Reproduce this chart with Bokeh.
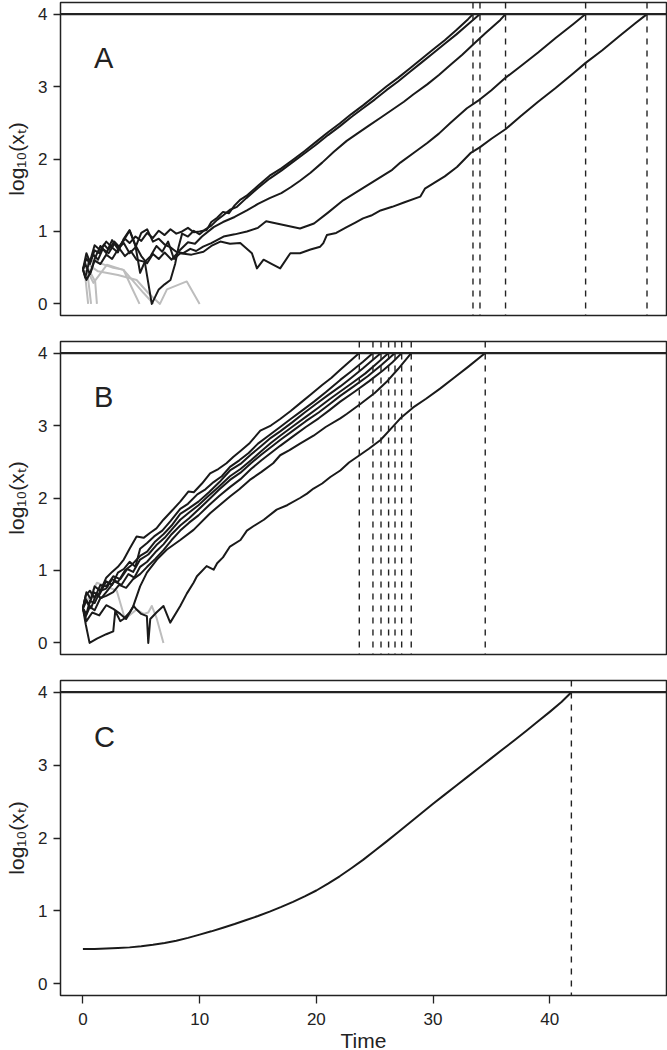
from bokeh.plotting import figure
from bokeh.models import Span, Label, FixedTicker, Range1d
from bokeh.layouts import column
from bokeh.embed import file_html
from bokeh.resources import INLINE

FONT = "Liberation Sans"
INK = "#222222"
BLACK = "#1a1a1a"
GREY = "#bdbdbd"

THRESHOLD = 4
Y_TICKS = [0, 1, 2, 3, 4]
X_TICKS = [0, 10, 20, 30, 40]
X_LABEL = "Time"
Y_LABEL = "log\u2081\u2080(x\u209c)"
PANEL_LETTERS = ["A", "B", "C"]

X_MIN, X_MAX = -1.92, 50.0
Y_MIN, Y_MAX = -0.16, 4.16

# ---------------- Panel A: trajectories (time, log10 x) ----------------
A1 = [(0, 0.477), (0.3, 0.63), (0.6, 0.55), (1.0, 0.74), (1.4, 0.70), (1.8, 0.82), (2.2, 0.75), (2.7, 0.86),
      (3.1, 0.79), (3.6, 0.90), (4.0, 0.84), (4.5, 0.93), (5.0, 0.87), (5.5, 0.98), (6.0, 0.91), (6.5, 1.01),
      (7.0, 0.95), (7.5, 1.03), (8.0, 0.97), (8.5, 1.00), (9.0, 1.05), (9.5, 0.99), (10.0, 1.00), (10.6, 1.02),
      (11.0, 1.13), (11.5, 1.19), (12.0, 1.27), (12.5, 1.25), (13.0, 1.36), (13.5, 1.44), (14.0, 1.49),
      (15.0, 1.63), (16.0, 1.77), (17.0, 1.87), (18.0, 1.99), (19.0, 2.11), (20.0, 2.24), (21.0, 2.37),
      (22.0, 2.49), (23.0, 2.62), (24.0, 2.74), (25.0, 2.87), (26.0, 3.00), (27.0, 3.12), (28.0, 3.25),
      (29.0, 3.38), (30.0, 3.51), (31.0, 3.64), (32.0, 3.78), (33.0, 3.93), (33.42, 4.0)]
A2 = [(0, 0.477), (0.2, 0.36), (0.5, 0.56), (0.9, 0.68), (1.3, 0.61), (1.7, 0.76), (2.2, 0.70), (2.7, 0.83),
      (3.1, 0.77), (3.6, 0.66), (4.1, 0.73), (4.6, 0.61), (5.3, 0.58), (5.9, 0.0), (6.5, 0.20), (7.0, 0.27),
      (7.5, 0.33), (7.9, 0.55), (8.2, 0.79), (8.5, 0.97), (9.0, 0.93), (9.5, 1.01), (10.0, 0.96), (10.5, 1.03),
      (11.0, 1.08), (11.5, 1.16), (12.0, 1.22), (12.6, 1.30), (13.2, 1.34), (14.0, 1.46), (15.0, 1.60),
      (16.0, 1.73), (17.0, 1.84), (18.0, 1.96), (19.0, 2.08), (20.0, 2.20), (21.0, 2.33), (22.0, 2.45),
      (23.0, 2.58), (24.0, 2.70), (25.0, 2.82), (26.0, 2.95), (27.0, 3.07), (28.0, 3.20), (29.0, 3.33),
      (30.0, 3.46), (31.0, 3.59), (32.0, 3.72), (33.0, 3.86), (34.02, 4.0)]
A3 = [(0, 0.477), (0.3, 0.70), (0.6, 0.58), (1.0, 0.81), (1.5, 0.74), (2.0, 0.86), (2.5, 0.78), (3.0, 0.71),
      (3.5, 0.90), (4.0, 1.02), (4.5, 0.81), (5.0, 0.66), (5.5, 0.56), (6.0, 0.69), (6.5, 0.62), (7.0, 0.71),
      (7.6, 0.61), (8.3, 0.74), (9.0, 0.85), (9.6, 0.83), (10.2, 0.93), (11.2, 1.06), (12.0, 1.13), (13.0, 1.20),
      (14.05, 1.29), (15.0, 1.38), (16.0, 1.46), (17.0, 1.53), (17.8, 1.61), (18.6, 1.70), (19.5, 1.81),
      (20.5, 1.95), (21.5, 2.10), (22.6, 2.25), (23.5, 2.35), (24.5, 2.46), (25.5, 2.57), (26.5, 2.68),
      (27.5, 2.79), (28.3, 2.89), (29.5, 3.03), (30.5, 3.16), (31.5, 3.30), (32.5, 3.44), (33.5, 3.59),
      (34.5, 3.74), (35.76, 3.92), (36.21, 4.0)]
A4 = [(0, 0.477), (0.2, 0.55), (0.6, 0.41), (1.0, 0.62), (1.5, 0.80), (2.0, 0.70), (2.5, 0.88), (3.0, 0.76),
      (3.5, 0.84), (4.0, 0.70), (4.5, 0.78), (5.0, 0.98), (5.5, 1.03), (6.0, 0.86), (6.5, 0.90), (7.0, 0.82),
      (7.5, 0.78), (8.0, 0.72), (8.6, 0.70), (9.2, 0.76), (9.7, 0.73), (10.3, 0.79), (11.0, 0.84), (12.05, 0.93),
      (13.0, 0.96), (14.05, 1.00), (15.0, 1.05), (15.7, 1.14), (16.3, 1.12), (17.5, 1.08), (18.6, 1.04),
      (19.8, 1.11), (21.0, 1.26), (22.3, 1.43), (23.5, 1.55), (24.5, 1.65), (25.5, 1.75), (26.5, 1.85),
      (27.2, 1.95), (28.3, 2.08), (29.5, 2.22), (30.5, 2.35), (31.5, 2.50), (32.9, 2.70), (34.0, 2.82),
      (35.0, 2.95), (36.2, 3.12), (37.5, 3.28), (39.0, 3.47), (40.5, 3.67), (42.0, 3.86), (43.07, 4.0)]
A5 = [(0, 0.477), (0.3, 0.33), (0.7, 0.45), (1.0, 0.60), (1.5, 0.55), (2.0, 0.68), (2.5, 0.62), (3.0, 0.75),
      (3.5, 0.88), (4.0, 1.01), (4.5, 0.80), (4.9, 0.43), (5.3, 0.58), (5.8, 0.66), (6.3, 0.80), (6.8, 0.72),
      (7.3, 0.86), (7.8, 0.62), (8.34, 0.70), (9.3, 0.68), (10.33, 0.72), (11.0, 0.80), (11.77, 0.86),
      (12.6, 0.83), (13.48, 0.84), (14.48, 0.70), (14.91, 0.49), (15.48, 0.61), (16.2, 0.55), (16.9, 0.49),
      (17.77, 0.70), (18.6, 0.70), (19.5, 0.75), (20.33, 0.79), (20.6, 0.84), (20.9, 0.95), (21.7, 0.98),
      (22.6, 1.06), (23.3, 1.12), (24.0, 1.18), (24.7, 1.22), (25.5, 1.29), (26.5, 1.34), (27.5, 1.40),
      (28.9, 1.48), (29.3, 1.59), (30.2, 1.68), (31.0, 1.76), (32.05, 1.89), (33.2, 2.08), (34.0, 2.16),
      (35.0, 2.28), (36.2, 2.41), (37.5, 2.59), (39.0, 2.79), (40.5, 2.98), (42.0, 3.18), (43.1, 3.33),
      (44.5, 3.50), (46.0, 3.70), (47.3, 3.87), (48.33, 4.0)]
A_EXTINCT = [
    [(0, 0.477), (0.2, 0.38), (0.45, 0.0)],
    [(0, 0.477), (0.3, 0.55), (0.7, 0.0)],
    [(0, 0.477), (0.35, 0.52), (1.05, 0.31), (1.2, 0.0)],
    [(0, 0.477), (0.5, 0.42), (0.9, 0.29), (2.05, 0.54), (3.05, 0.49), (3.48, 0.47), (4.2, 0.22), (4.85, 0.0)],
    [(0, 0.477), (0.6, 0.60), (1.5, 0.56), (2.6, 0.50), (3.48, 0.47), (5.2, 0.15), (6.05, 0.0)],
    [(0, 0.477), (0.4, 0.55), (1.3, 0.45), (3.0, 0.40), (4.6, 0.33), (5.6, 0.15), (6.6, 0.0), (7.2, 0.20),
     (8.9, 0.31), (10.0, 0.0)],
]

# ---------------- Panel B ----------------
B1 = [(0, 0.477), (0.3, 0.70), (0.7, 0.60), (1.0, 0.78), (1.5, 0.72), (2.0, 0.90), (2.5, 0.98), (3.0, 1.05),
      (3.5, 1.15), (4.0, 1.30), (4.6, 1.47), (5.2, 1.45), (5.77, 1.52), (6.3, 1.58), (6.9, 1.70), (7.6, 1.82),
      (8.34, 1.95), (9.05, 2.09), (9.5, 2.08), (10.2, 2.20), (10.9, 2.34), (11.6, 2.40), (12.3, 2.48),
      (12.9, 2.57), (13.5, 2.65), (14.3, 2.76), (15.2, 2.93), (16.1, 3.00), (16.9, 3.09), (17.8, 3.20),
      (18.7, 3.32), (19.6, 3.44), (20.5, 3.56), (21.3, 3.66), (22.05, 3.77), (22.9, 3.89), (23.68, 4.0)]
B2 = [(0, 0.477), (0.2, 0.62), (0.5, 0.52), (0.9, 0.70), (1.4, 0.66), (2.0, 0.85), (2.5, 0.80), (3.0, 0.97),
      (3.5, 1.02), (4.0, 1.12), (4.5, 1.05), (4.9, 1.30), (5.5, 1.38), (6.1, 1.47), (6.8, 1.55), (7.5, 1.68),
      (8.34, 1.85), (9.0, 1.92), (9.8, 2.05), (10.5, 2.12), (11.2, 2.22), (11.9, 2.30), (12.6, 2.43),
      (13.4, 2.52), (14.2, 2.62), (15.0, 2.75), (15.9, 2.86), (16.9, 2.98), (17.8, 3.09), (18.8, 3.21),
      (19.8, 3.33), (20.8, 3.46), (22.05, 3.63), (23.0, 3.75), (24.0, 3.88), (24.85, 4.0)]
B3 = [(0, 0.477), (0.3, 0.40), (0.6, 0.58), (1.0, 0.55), (1.5, 0.72), (2.0, 0.75), (2.5, 0.88), (3.0, 0.84),
      (3.6, 1.00), (4.2, 1.08), (4.9, 1.20), (5.5, 1.26), (6.2, 1.40), (6.9, 1.50), (7.6, 1.62), (8.34, 1.78),
      (9.1, 1.86), (9.9, 1.95), (10.8, 2.08), (11.7, 2.22), (12.6, 2.38), (13.5, 2.47), (14.4, 2.60),
      (15.3, 2.72), (16.1, 2.83), (16.9, 2.92), (17.9, 3.04), (19.0, 3.18), (20.0, 3.30), (21.0, 3.42),
      (22.05, 3.54), (23.0, 3.66), (24.0, 3.79), (24.8, 3.90), (25.54, 4.0)]
B4 = [(0, 0.477), (0.25, 0.66), (0.6, 0.72), (1.0, 0.62), (1.5, 0.80), (2.0, 0.78), (2.6, 0.92), (3.2, 0.88),
      (3.8, 1.02), (4.3, 0.98), (4.9, 1.15), (5.6, 1.22), (6.3, 1.35), (7.0, 1.45), (7.7, 1.58), (8.34, 1.70),
      (9.1, 1.80), (9.9, 1.90), (10.7, 2.02), (11.6, 2.15), (12.6, 2.30), (13.5, 2.40), (14.4, 2.52),
      (15.3, 2.65), (16.1, 2.76), (16.9, 2.86), (18.0, 2.99), (19.1, 3.12), (20.2, 3.25), (21.1, 3.36),
      (22.05, 3.47), (23.1, 3.59), (24.2, 3.72), (25.2, 3.86), (26.19, 4.0)]
B5 = [(0, 0.477), (0.3, 0.58), (0.7, 0.48), (1.1, 0.66), (1.6, 0.62), (2.1, 0.72), (2.7, 0.85), (3.3, 0.80),
      (3.9, 0.95), (4.4, 0.90), (4.9, 1.05), (5.5, 1.12), (6.2, 1.25), (6.9, 1.36), (7.6, 1.50), (8.34, 1.62),
      (9.1, 1.72), (9.9, 1.84), (10.8, 1.98), (11.7, 2.12), (12.6, 2.25), (13.5, 2.35), (14.4, 2.48),
      (15.3, 2.60), (16.1, 2.70), (16.9, 2.80), (18.0, 2.93), (19.1, 3.06), (20.2, 3.18), (21.1, 3.29),
      (22.05, 3.41), (23.2, 3.54), (24.4, 3.68), (25.6, 3.84), (26.74, 4.0)]
B6 = [(0, 0.477), (0.2, 0.35), (0.6, 0.50), (1.0, 0.45), (1.5, 0.62), (2.0, 0.65), (2.6, 0.70), (3.1, 0.80),
      (3.7, 0.76), (4.3, 0.88), (4.9, 0.95), (5.5, 1.05), (6.2, 1.16), (6.9, 1.28), (7.6, 1.42), (8.34, 1.55),
      (9.1, 1.66), (9.9, 1.76), (10.8, 1.90), (11.7, 2.03), (12.6, 2.15), (13.5, 2.26), (14.4, 2.40),
      (15.3, 2.52), (16.1, 2.62), (16.9, 2.72), (18.0, 2.85), (19.1, 2.98), (20.2, 3.10), (21.1, 3.21),
      (22.05, 3.33), (23.3, 3.47), (24.5, 3.61), (25.7, 3.76), (26.5, 3.87), (27.31, 4.0)]
B7 = [(0, 0.477), (0.3, 0.30), (0.8, 0.42), (1.4, 0.38), (2.0, 0.52), (2.6, 0.47), (3.2, 0.40), (3.7, 0.33),
      (4.3, 0.50), (4.9, 0.78), (5.48, 0.97), (6.34, 1.15), (7.2, 1.29), (8.34, 1.42), (9.48, 1.56),
      (10.9, 1.79), (12.6, 2.02), (13.4, 2.12), (14.3, 2.25), (15.3, 2.36), (16.3, 2.48), (16.9, 2.59),
      (17.7, 2.66), (18.6, 2.75), (19.76, 2.86), (20.8, 2.98), (22.05, 3.10), (22.6, 3.16), (23.8, 3.30),
      (25.0, 3.45), (26.0, 3.60), (27.0, 3.78), (28.13, 4.0)]
B8 = [(0, 0.477), (0.25, 0.25), (0.57, 0.0), (1.2, 0.06), (2.0, 0.12), (2.6, 0.16), (2.77, 0.44), (3.2, 0.30),
      (3.48, 0.33), (4.0, 0.42), (4.34, 0.51), (4.6, 0.46), (5.0, 0.40), (5.48, 0.37), (5.6, 0.0), (5.77, 0.33),
      (6.3, 0.42), (6.9, 0.51), (7.48, 0.28), (8.34, 0.51), (8.9, 0.68), (9.48, 0.83), (9.77, 0.92),
      (10.6, 1.06), (11.2, 1.01), (11.5, 1.10), (12.0, 1.18), (12.6, 1.33), (13.5, 1.42), (14.05, 1.55),
      (14.6, 1.61), (15.5, 1.70), (16.6, 1.84), (17.5, 1.90), (18.6, 2.00), (19.2, 2.06), (19.76, 2.13),
      (20.5, 2.20), (21.2, 2.29), (22.05, 2.38), (22.8, 2.49), (23.7, 2.59), (24.5, 2.68), (25.5, 2.80),
      (26.3, 2.94), (27.2, 3.10), (28.3, 3.25), (29.4, 3.37), (30.6, 3.51), (31.8, 3.66), (33.0, 3.81),
      (34.47, 4.0)]
B_EXTINCT = [
    [(0, 0.477), (0.6, 0.65), (1.2, 0.83), (2.0, 0.78), (2.9, 0.72), (3.3, 0.50), (3.6, 0.33), (4.6, 0.46),
     (5.2, 0.40), (5.6, 0.42), (5.9, 0.51), (6.3, 0.35), (6.9, 0.0)],
]

# ---------------- Panel C: deterministic mean ----------------
C_TIME = [0, 1, 2, 3, 4, 5, 6, 7, 8, 9, 10, 11, 12, 13, 14, 15, 16, 17, 18, 19, 20, 21, 22, 23, 24, 25, 26,
          27, 28, 29, 30, 31, 32, 33, 34, 35, 36, 37, 38, 39, 40, 41, 41.85]
C_LOGX = [0.477, 0.479, 0.483, 0.490, 0.500, 0.515, 0.535, 0.560, 0.590, 0.630, 0.675, 0.720, 0.770, 0.820,
          0.875, 0.930, 0.990, 1.055, 1.125, 1.200, 1.280, 1.375, 1.475, 1.585, 1.700, 1.825, 1.950, 2.080,
          2.210, 2.340, 2.470, 2.595, 2.720, 2.845, 2.970, 3.095, 3.220, 3.345, 3.470, 3.600, 3.730, 3.865, 4.0]
C = list(zip(C_TIME, C_LOGX))

PANELS = [
    ("A", [A1, A2, A3, A4, A5], A_EXTINCT),
    ("B", [B1, B2, B3, B4, B5, B6, B7, B8], B_EXTINCT),
    ("C", [C], []),
]

FRAME_W = 606
LEFT = 60


def make_panel(letter, survivors, extinct, show_x, frame_h, top, bottom):
    p = figure(frame_width=FRAME_W, frame_height=frame_h,
               x_range=Range1d(X_MIN, X_MAX), y_range=Range1d(Y_MIN, Y_MAX),
               output_backend="svg", toolbar_location=None,
               x_axis_location="below" if show_x else None,
               min_border_left=LEFT, min_border_right=1, min_border_top=top,
               min_border_bottom=bottom)
    p.grid.visible = False
    p.outline_line_color = INK
    p.outline_line_width = 1.5
    p.outline_line_alpha = 1.0
    p.background_fill_color = "white"
    p.border_fill_color = "white"

    ya = p.yaxis[0]
    ya.ticker = FixedTicker(ticks=Y_TICKS)
    ya.axis_line_color = None
    ya.major_tick_in = 0
    ya.major_tick_out = 7
    ya.major_tick_line_color = INK
    ya.major_tick_line_width = 1.3
    ya.minor_tick_line_color = None
    ya.major_label_text_font = FONT
    ya.major_label_text_font_size = "17px"
    ya.major_label_text_color = INK
    ya.major_label_standoff = 6
    ya.axis_label = Y_LABEL
    ya.axis_label_text_font = FONT
    ya.axis_label_text_font_size = "21px"
    ya.axis_label_text_font_style = "normal"
    ya.axis_label_text_color = INK
    ya.axis_label_standoff = 7

    if show_x:
        xa = p.xaxis[0]
        xa.ticker = FixedTicker(ticks=X_TICKS)
        xa.axis_line_color = None
        xa.major_tick_in = 0
        xa.major_tick_out = 8
        xa.major_tick_line_color = INK
        xa.major_tick_line_width = 1.3
        xa.minor_tick_line_color = None
        xa.major_label_text_font = FONT
        xa.major_label_text_font_size = "17px"
        xa.major_label_text_color = INK
        xa.major_label_standoff = 9
        xa.axis_label = X_LABEL
        xa.axis_label_text_font = FONT
        xa.axis_label_text_font_size = "21px"
        xa.axis_label_text_font_style = "normal"
        xa.axis_label_text_color = INK
        xa.axis_label_standoff = 1

    if extinct:
        p.multi_line(xs=[[pt[0] for pt in s] for s in extinct],
                     ys=[[pt[1] for pt in s] for s in extinct],
                     line_color=GREY, line_width=2, line_join="round")
    p.multi_line(xs=[[pt[0] for pt in s] for s in survivors],
                 ys=[[pt[1] for pt in s] for s in survivors],
                 line_color=BLACK, line_width=2, line_join="round")

    p.add_layout(Span(location=THRESHOLD, dimension="width", line_color=INK, line_width=2.2))
    for s in survivors:
        p.add_layout(Span(location=s[-1][0], dimension="height", line_color=INK,
                          line_width=1.4, line_dash="6 6"))

    p.add_layout(Label(x=0.95, y=3.39, text=letter, text_font=FONT, text_font_size="29px",
                       text_color=INK, text_align="left", text_baseline="alphabetic"))
    return p


specs = [(313, 2, 25), (313, 1, 25), (315, 1, 40)]
figs = []
for i, (letter, surv, ext) in enumerate(PANELS):
    fh, top, bottom = specs[i]
    figs.append(make_panel(letter, surv, ext, i == len(PANELS) - 1, fh, top, bottom))

layout = column(*figs, spacing=0)
open("out.html", "w").write(file_html(layout, INLINE, "Trajectories"))
